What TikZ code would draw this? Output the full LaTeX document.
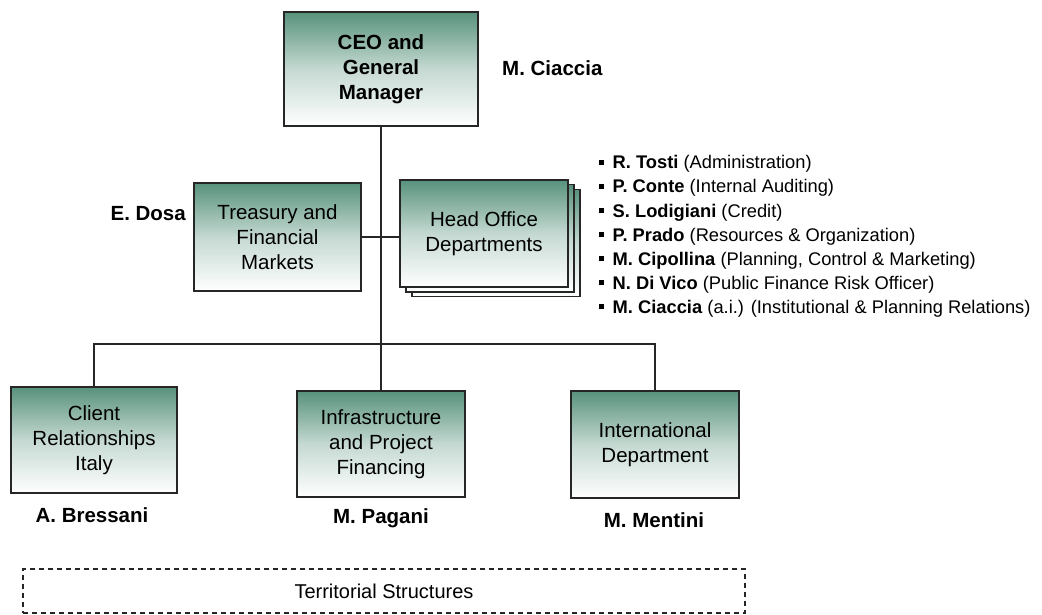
\documentclass[tikz,border=0pt]{standalone}
\usepackage{fontspec}
\setmainfont{Liberation Sans}
\usetikzlibrary{positioning}
\definecolor{boxgreen}{RGB}{88,146,124}
\tikzset{u/.style={draw=black!85, line width=1.4pt, top color=boxgreen, bottom color=white, middle color=boxgreen!35, align=center, inner sep=0pt, font=\fontsize{20.5}{25}\selectfont},
        ub/.style={u, font=\fontsize{20.5}{25}\selectfont\bfseries},
        nm/.style={font=\fontsize{20.5}{23}\selectfont\bfseries, inner sep=0pt},
        item/.style={font=\fontsize{18.3}{24}\selectfont, inner sep=0pt, anchor=base west},
        link/.style={draw=black!85, line width=1.3pt}}
\begin{document}
\begin{tikzpicture}[x=1pt, y=-1pt]
    \useasboundingbox (0,0) rectangle (1042,615);

    \node[ub, minimum width=194pt, minimum height=114pt] (ceo) at (381,69) {CEO and\\General\\Manager};
    \node[nm, anchor=west] (ceonm) at (502,68) {M. Ciaccia};

    \node[u, minimum width=167pt, minimum height=108pt] (treasury) at (277.5,237) {Treasury and\\Financial\\Markets};
    \node[nm, anchor=east] (dosa) at (186,214) {E. Dosa};

    % stacked copies behind the head office box
    \foreach \d in {12,6} {
        \node[u, minimum width=168pt, minimum height=107pt] at (484+\d,233.5+0.8*\d) {};
    }
    \node[u, minimum width=168pt, minimum height=107pt] (head) at (484,233.5) {Head Office\\Departments};

    \foreach \who/\what [count=\i] in {R. Tosti/(Administration), P. Conte/(Internal Auditing), S. Lodigiani/(Credit), P. Prado/(Resources \& Organization), M. Cipollina/{(Planning, Control \& Marketing)}, N. Di Vico/(Public Finance Risk Officer), M. Ciaccia/(a.i.) (Institutional \& Planning Relations)} {
        \node[item] (dep\i) at (599,145+24*\i) {\rule[4pt]{4.5pt}{5pt}\hspace{9pt}\textbf{\who} \what};
    }

    \node[u, minimum width=166pt, minimum height=106pt] (client) at (94,440) {Client\\Relationships\\Italy};
    \node[u, minimum width=168pt, minimum height=106pt] (infra) at (381,444) {Infrastructure\\and Project\\Financing};
    \node[u, minimum width=168pt, minimum height=107pt] (intl) at (655,444.5) {International\\Department};

    \node[nm] (bressani) at (92,515) {A. Bressani};
    \node[nm] (pagani) at (381,518) {M. Pagani};
    \node[nm] (mentini) at (654,520) {M. Mentini};

    \node[draw=black!85, dashed, dash pattern=on 5pt off 4pt, line width=1.2pt, minimum width=722pt, minimum height=44pt, font=\fontsize{20}{24}\selectfont] (terr) at (384,591) {Territorial Structures};

    \coordinate (bus) at (381,344);
    \draw[link] (ceo) -- (infra);
    \draw[link] (treasury.east) -- (treasury.east -| head.west);
    \draw[link] (client.north) -- (client.north |- bus) -- (intl.north |- bus) -- (intl.north);
\end{tikzpicture}
\end{document}
